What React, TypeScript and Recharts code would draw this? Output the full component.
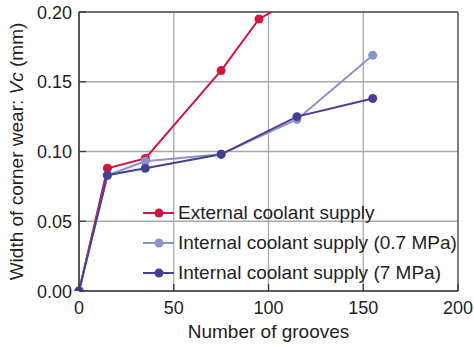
import { CartesianGrid, Label, Legend, Line, LineChart, ReferenceLine, XAxis, YAxis } from "recharts";

const extGrooves = [0, 15, 35, 75, 95, 115];
const extWear = [0, 0.088, 0.095, 0.158, 0.195, 0.21];
const intGrooves = [0, 15, 35, 75, 115, 155];
const int07Wear = [0, 0.083, 0.093, 0.098, 0.123, 0.169];
const int7Wear = [0, 0.083, 0.088, 0.098, 0.125, 0.138];

const xTicks = [0, 50, 100, 150, 200];
const yTicks = [0, 0.05, 0.1, 0.15, 0.2];

const extData = extGrooves.map((g, i) => ({ g, v: extWear[i] }));
const int07Data = intGrooves.map((g, i) => ({ g, v: int07Wear[i] }));
const int7Data = intGrooves.map((g, i) => ({ g, v: int7Wear[i] }));

const FONT = "'Liberation Sans', Arial, sans-serif";
const TEXT = "#231f20";
const LEFT = 79;
const BOTTOM = 291;

const XTick = ({ x, payload }: any) => (
  <g>
    <line x1={x} y1={BOTTOM} x2={x} y2={BOTTOM - 7} stroke="#3a3a3a" strokeWidth={1.3} />
    <text x={x} y={BOTTOM + 22.5} textAnchor="middle" fontSize={18} fill={TEXT} fontFamily={FONT}>
      {payload.value}
    </text>
  </g>
);

const YTick = ({ y, payload }: any) => (
  <g>
    <line x1={LEFT} y1={y} x2={LEFT + 7} y2={y} stroke="#3a3a3a" strokeWidth={1.3} />
    <text x={LEFT - 7} y={y + 6.5} textAnchor="end" fontSize={18} fill={TEXT} fontFamily={FONT}>
      {payload.value.toFixed(2)}
    </text>
  </g>
);

const YTitle = ({ viewBox }: any) => {
  const cy = viewBox.y + viewBox.height / 2;
  return (
    <text x={23} y={cy} transform={`rotate(-90 23 ${cy})`} textAnchor="middle" fontSize={19} fill={TEXT} fontFamily={FONT}>
      Width of corner wear: <tspan fontStyle="italic">Vc</tspan> (mm)
    </text>
  );
};

const renderLegend = ({ payload }: any) => (
  <div style={{ display: "flex", flexDirection: "column", fontFamily: FONT }}>
    {payload.map((p: any) => (
      <div key={p.value} style={{ display: "flex", alignItems: "center", height: 30 }}>
        <svg width={31} height={12} style={{ display: "block" }}>
          <line x1={0} y1={6} x2={31} y2={6} stroke={p.color} strokeWidth={2} />
          <circle cx={16} cy={6} r={4.5} fill={p.color} />
        </svg>
        <span style={{ marginLeft: 4, fontSize: 19, color: TEXT, whiteSpace: "nowrap" }}>{p.value}</span>
      </div>
    ))}
  </div>
);

export default function App() {
  return (
    <div style={{ position: "absolute", left: 0, top: 0, background: "#fff" }}>
      <LineChart width={474} height={347} margin={{ top: 12, right: 16, bottom: 0, left: 0 }}>
        <CartesianGrid stroke="#a8a8a8" strokeWidth={1.3} />
        <XAxis
          dataKey="g"
          type="number"
          domain={[0, 200]}
          ticks={xTicks}
          tick={XTick}
          tickLine={false}
          axisLine={{ stroke: "#3a3a3a", strokeWidth: 1.6 }}
          height={56}
        >
          <Label value="Number of grooves" position="insideBottom" offset={9} fontSize={19} fill={TEXT} fontFamily={FONT} />
        </XAxis>
        <YAxis
          type="number"
          domain={[0, 0.2]}
          allowDataOverflow
          ticks={yTicks}
          tick={YTick}
          tickLine={false}
          axisLine={{ stroke: "#3a3a3a", strokeWidth: 1.6 }}
          width={79}
        >
          <Label content={YTitle} />
        </YAxis>
        <ReferenceLine y={0.2} stroke="#5a5450" strokeWidth={1.3} />
        <ReferenceLine x={200} stroke="#5a5450" strokeWidth={1.3} />
        <Legend
          layout="vertical"
          align="center"
          verticalAlign="middle"
          content={renderLegend}
          wrapperStyle={{ left: 143, top: 198, width: 320 }}
        />
        <Line
          data={extData}
          dataKey="v"
          name="External coolant supply"
          stroke="#d2143c"
          strokeWidth={2}
          dot={{ r: 4.5, fill: "#d2143c", stroke: "none" }}
          isAnimationActive={false}
        />
        <Line
          data={int07Data}
          dataKey="v"
          name="Internal coolant supply (0.7 MPa)"
          stroke="#8b93cc"
          strokeWidth={2}
          dot={{ r: 4.5, fill: "#8b93cc", stroke: "none" }}
          isAnimationActive={false}
        />
        <Line
          data={int7Data}
          dataKey="v"
          name="Internal coolant supply (7 MPa)"
          stroke="#43409a"
          strokeWidth={2}
          dot={{ r: 4.5, fill: "#43409a", stroke: "none" }}
          isAnimationActive={false}
        />
      </LineChart>
    </div>
  );
}
